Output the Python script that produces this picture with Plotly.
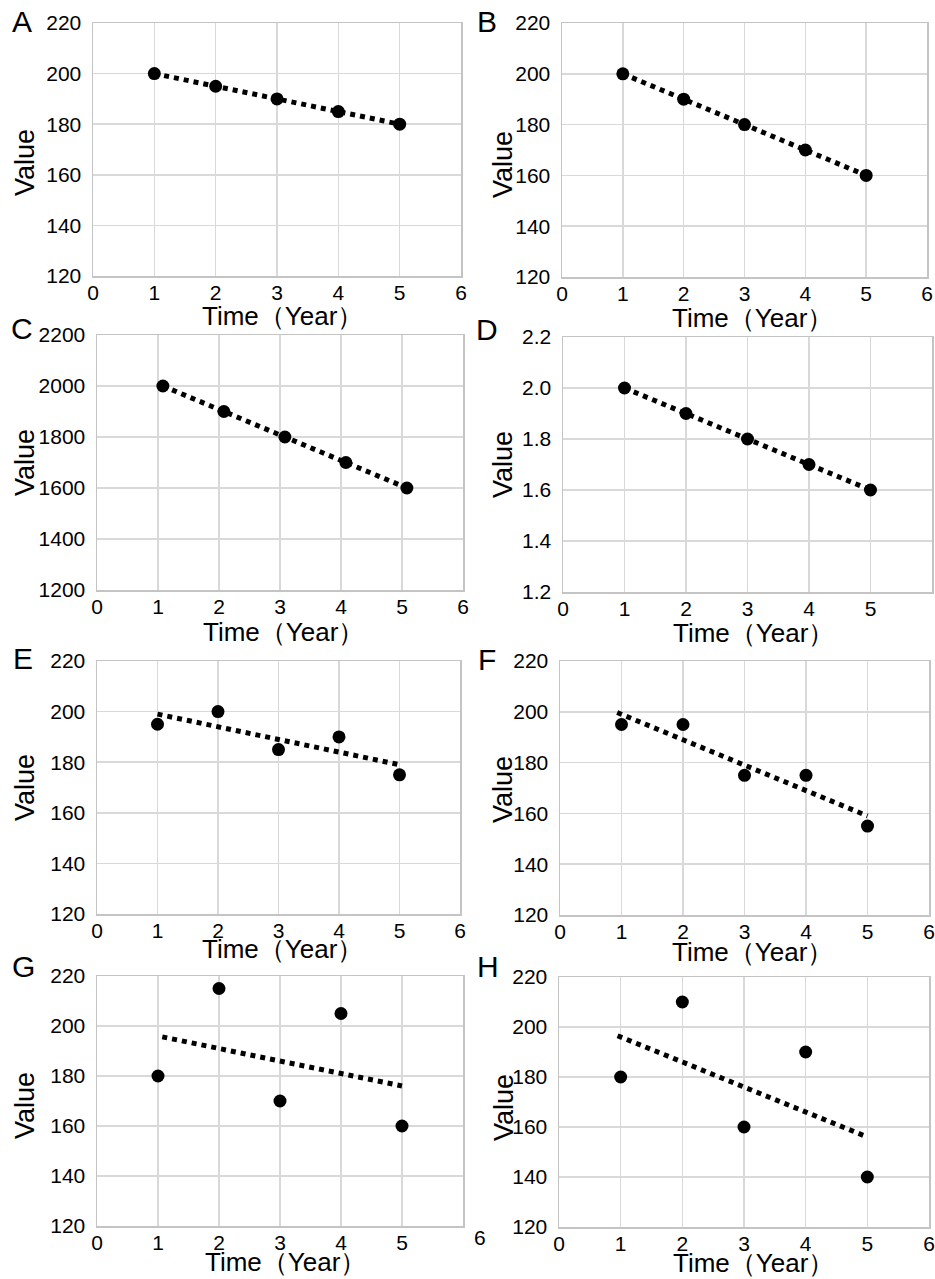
import numpy as np
import plotly.graph_objects as go

W, H = 935, 1279

# ---------------- data ----------------
panel_letters = ["A", "B", "C", "D", "E", "F", "G", "H"]
years = [1, 2, 3, 4, 5]
years_C = [1.08, 2.08, 3.08, 4.08, 5.08]
x_ticks = [0, 1, 2, 3, 4, 5, 6]

values_A = [200, 195, 190, 185, 180]
values_B = [200, 190, 180, 170, 160]
values_C = [2000, 1900, 1800, 1700, 1600]
values_D = [2.0, 1.9, 1.8, 1.7, 1.6]
values_E = [195, 200, 185, 190, 175]
values_F = [195, 195, 175, 175, 155]
values_G = [180, 215, 170, 205, 160]
values_H = [180, 210, 160, 190, 140]

y_ticks_std = [120, 140, 160, 180, 200, 220]
y_ticks_C = [1200, 1400, 1600, 1800, 2000, 2200]
y_ticks_D = [1.2, 1.4, 1.6, 1.8, 2.0, 2.2]
y_ticklabels_D = ["1.2", "1.4", "1.6", "1.8", "2.0", "2.2"]

# trend-line x extents
trend_start = [1.0, 1.0, 1.08, 1.0, 1.0, 0.93, 1.07, 0.95]
trend_end = [5.0, 5.0, 5.08, 5.0, 5.0, 5.0, 5.0, 5.0]

x_title = "Time（Year）"
y_title = "Value"

# ---------------- layout (pixel boxes in the page) ----------------
boxes = [  # left, right, top, bottom
    (93, 461, 23, 276),
    (562, 927, 23, 277),
    (97, 463, 335, 590),
    (563, 932, 337, 592),
    (97, 460, 661, 914),
    (560, 929, 661, 915),
    (97, 463, 976, 1226),
    (559, 929, 977, 1227),
]
letter_pos = [(22, 21), (487, 21), (22, 328), (487, 329),
              (23, 658), (487, 659), (23, 967), (488, 967)]
ytitle_pos = [(25, 163), (503, 165), (25, 463), (503, 465),
              (25, 788), (503, 790), (25, 1106), (504, 1108)]
xtitle_pos = [(282, 316), (752, 318), (283, 632), (753, 633),
              (282, 949), (752, 952), (285, 1262), (753, 1263)]

series = [
    (years, values_A, y_ticks_std, None),
    (years, values_B, y_ticks_std, None),
    (years_C, values_C, y_ticks_C, None),
    (years, values_D, y_ticks_D, y_ticklabels_D),
    (years, values_E, y_ticks_std, None),
    (years, values_F, y_ticks_std, None),
    (years, values_G, y_ticks_std, None),
    (years, values_H, y_ticks_std, None),
]

FONT = "Liberation Sans, Arial, sans-serif"
GRID = "#d9d9d9"
LINE = "#c4c4c4"

fig = go.Figure()
layout = dict(
    template="none",
    width=W, height=H, autosize=False,
    margin=dict(l=0, r=0, t=0, b=0, pad=0),
    paper_bgcolor="white", plot_bgcolor="white",
    showlegend=False,
    font=dict(family=FONT, color="black"),
)
annotations = []

def px(x):
    return x / W

def py(y):
    return 1 - y / H

for i, (xs, ys, yt, ytl) in enumerate(series):
    n = i + 1
    xa = "x" if n == 1 else f"x{n}"
    ya = "y" if n == 1 else f"y{n}"
    l, r, t, b = boxes[i]

    # data points
    fig.add_trace(go.Scatter(
        x=xs, y=ys, mode="markers", xaxis=xa, yaxis=ya,
        marker=dict(color="black", size=13),
        hoverinfo="skip", cliponaxis=False))
    # linear trend line (least squares fit of the points)
    k, c = np.polyfit(xs, ys, 1)
    tx = [trend_start[i], trend_end[i]]
    ty = [k * v + c for v in tx]
    fig.add_trace(go.Scatter(
        x=tx, y=ty, mode="lines", xaxis=xa, yaxis=ya,
        line=dict(color="black", width=5, dash="dot"),
        hoverinfo="skip"))

    xt = x_ticks if i != 6 else x_ticks[:-1]
    layout["xaxis" if n == 1 else f"xaxis{n}"] = dict(
        domain=[px(l), px(r)], anchor=ya, range=[0, 6], automargin=False,
        tickmode="array", tickvals=xt, ticktext=[str(v) for v in xt],
        showgrid=True, gridcolor=GRID, gridwidth=1.5,
        showline=True, linecolor=LINE, linewidth=1.5, mirror=True,
        zeroline=False, ticks="", ticklabelstandoff=-3,
        tickfont=dict(size=21, family=FONT, color="black"),
    )
    layout["yaxis" if n == 1 else f"yaxis{n}"] = dict(
        domain=[py(b), py(t)], anchor=xa, range=[yt[0], yt[-1]], automargin=False,
        tickmode="array", tickvals=yt,
        ticktext=ytl if ytl else [str(v) for v in yt],
        showgrid=True, gridcolor=GRID, gridwidth=1.5,
        showline=True, linecolor=LINE, linewidth=1.5, mirror=True,
        zeroline=False, ticks="", ticklabelstandoff=6,
        tickfont=dict(size=21, family=FONT, color="black"),
    )

    lx, ly = letter_pos[i]
    annotations.append(dict(
        text=panel_letters[i], x=px(lx), y=py(ly), xref="paper", yref="paper",
        xanchor="center", yanchor="middle", showarrow=False,
        font=dict(size=30, family=FONT, color="black")))
    vx, vy = ytitle_pos[i]
    annotations.append(dict(
        text=y_title, x=px(vx), y=py(vy), xref="paper", yref="paper",
        xanchor="center", yanchor="middle", showarrow=False, textangle=-90,
        font=dict(size=27, family=FONT, color="black")))
    tx_, ty_ = xtitle_pos[i]
    annotations.append(dict(
        text=x_title, x=px(tx_), y=py(ty_), xref="paper", yref="paper",
        xanchor="center", yanchor="middle", showarrow=False,
        font=dict(size=26, family=FONT, color="black")))

# stray "6" tick label of panel G
annotations.append(dict(
    text=str(x_ticks[-1]), x=px(480), y=py(1237), xref="paper", yref="paper",
    xanchor="center", yanchor="middle", showarrow=False,
    font=dict(size=21, family=FONT, color="black")))

layout["annotations"] = annotations
fig.update_layout(**layout)
fig.write_html(
    "out.html",
    config={"displayModeBar": False, "staticPlot": True},
    post_script="document.body.style.margin='0';document.body.style.overflow='hidden';",
)
